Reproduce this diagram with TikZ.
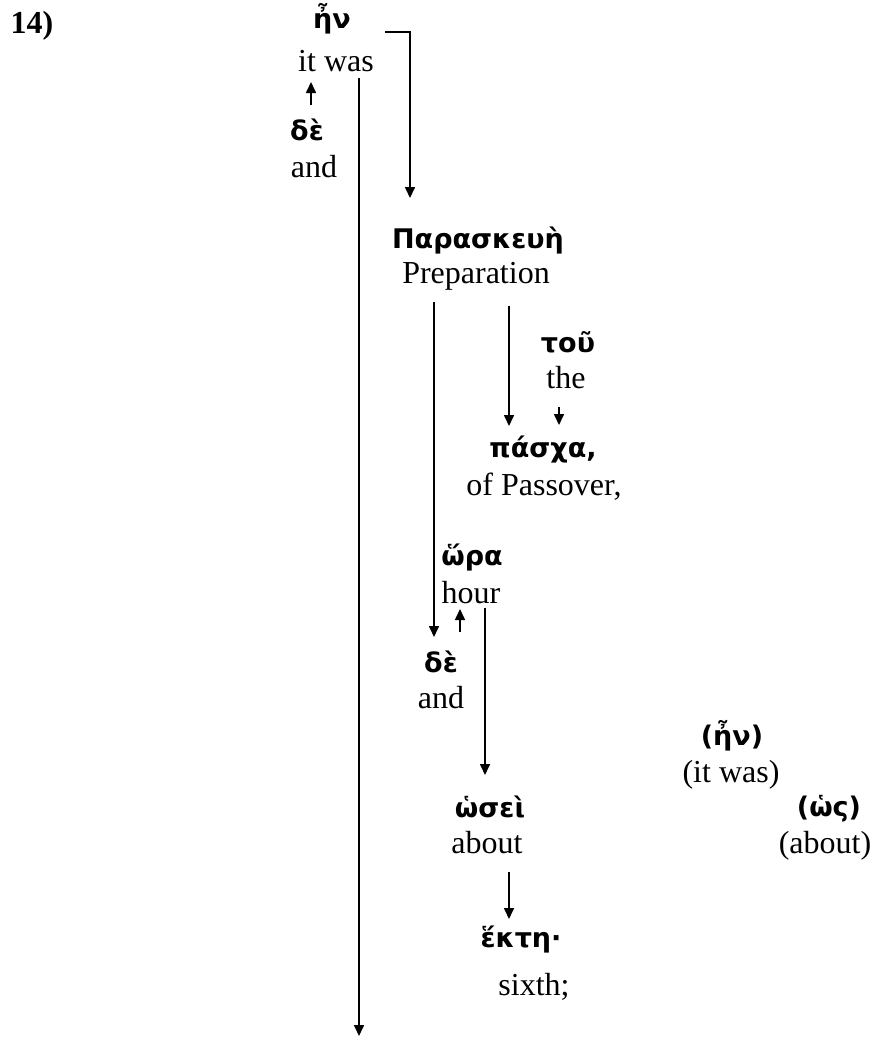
\documentclass[tikz,border=0pt]{standalone}
\usepackage{fontspec}
\setmainfont{Liberation Serif}
\newfontfamily\grk{DejaVu Sans}
\usetikzlibrary{arrows.meta,calc}
\begin{document}
\begin{tikzpicture}[x=1pt,y=-1pt,
  en/.style={anchor=base,inner sep=0pt,font=\fontsize{32}{36}\selectfont},
  gr/.style={anchor=base,inner sep=0pt,font=\fontsize{27}{30}\selectfont\grk\bfseries},
  conn/.style={line width=1.6pt,-{Triangle[length=11pt,width=10pt]}}]
\useasboundingbox (0,0) rectangle (872,1037);
\node[anchor=base,inner sep=0pt,font=\fontsize{32}{36}\selectfont\bfseries] (num) at (32,33) {14)};
\node[gr] (hn1) at (332,28) {ἦν};
\node[en] (itwas) at (336,71) {it was};
\node[gr] (de1) at (307,140) {δὲ};
\node[en] (and1) at (314,177) {and};
\node[gr] (par) at (478,248) {Παρασκευὴ};
\node[en] (prep) at (476,283) {Preparation};
\node[gr] (tou) at (568,352) {τοῦ};
\node[en] (the) at (566,388) {the};
\node[gr] (pascha) at (543,457) {πάσχα,};
\node[en] (passover) at (544,495) {of Passover,};
\node[gr] (hora) at (472,565) {ὥρα};
\node[en] (hour) at (471,603) {hour};
\node[gr] (de2) at (441,672) {δὲ};
\node[en] (and2) at (441,708) {and};
\node[gr] (hn2) at (732,745) {(ἦν)};
\node[en] (itwas2) at (731,782) {(it was)};
\node[gr] (hosei) at (490,817) {ὡσεὶ};
\node[en] (about) at (487,853) {about};
\node[gr] (hos) at (829,816) {(ὡς)};
\node[en] (about2) at (825,853) {(about)};
\node[gr] (hekte) at (521,947) {ἕκτη·};
\node[en] (sixth) at (534,995) {sixth;};
\coordinate (bottom) at (359,1036);
\draw[conn] ($(de1.base)+(4,-35)$) -- ($(itwas.base)+(-25,11)$);
\draw[conn] ($(hn1.base)+(53,4)$) -| ($(par.base)+(-68,-50)$);
\draw[conn] ($(itwas.base)+(23,7)$) -- (bottom);
\draw[conn] ($(prep.base)+(-42,19)$) -- ($(de2.base)+(-7,-35)$);
\draw[conn] ($(prep.base)+(33,23)$) -- ($(pascha.base)+(-34,-31)$);
\draw[conn] ($(the.base)+(-7,19)$) -- ($(pascha.base)+(16,-32)$);
\draw[conn] ($(de2.base)+(19,-40)$) -- ($(hour.base)+(-11,6)$);
\draw[conn] ($(hour.base)+(14,5)$) -- ($(hosei.base)+(-5,-42)$);
\draw[conn] ($(about.base)+(22,19)$) -- ($(hekte.base)+(-12,-28)$);
\end{tikzpicture}
\end{document}
